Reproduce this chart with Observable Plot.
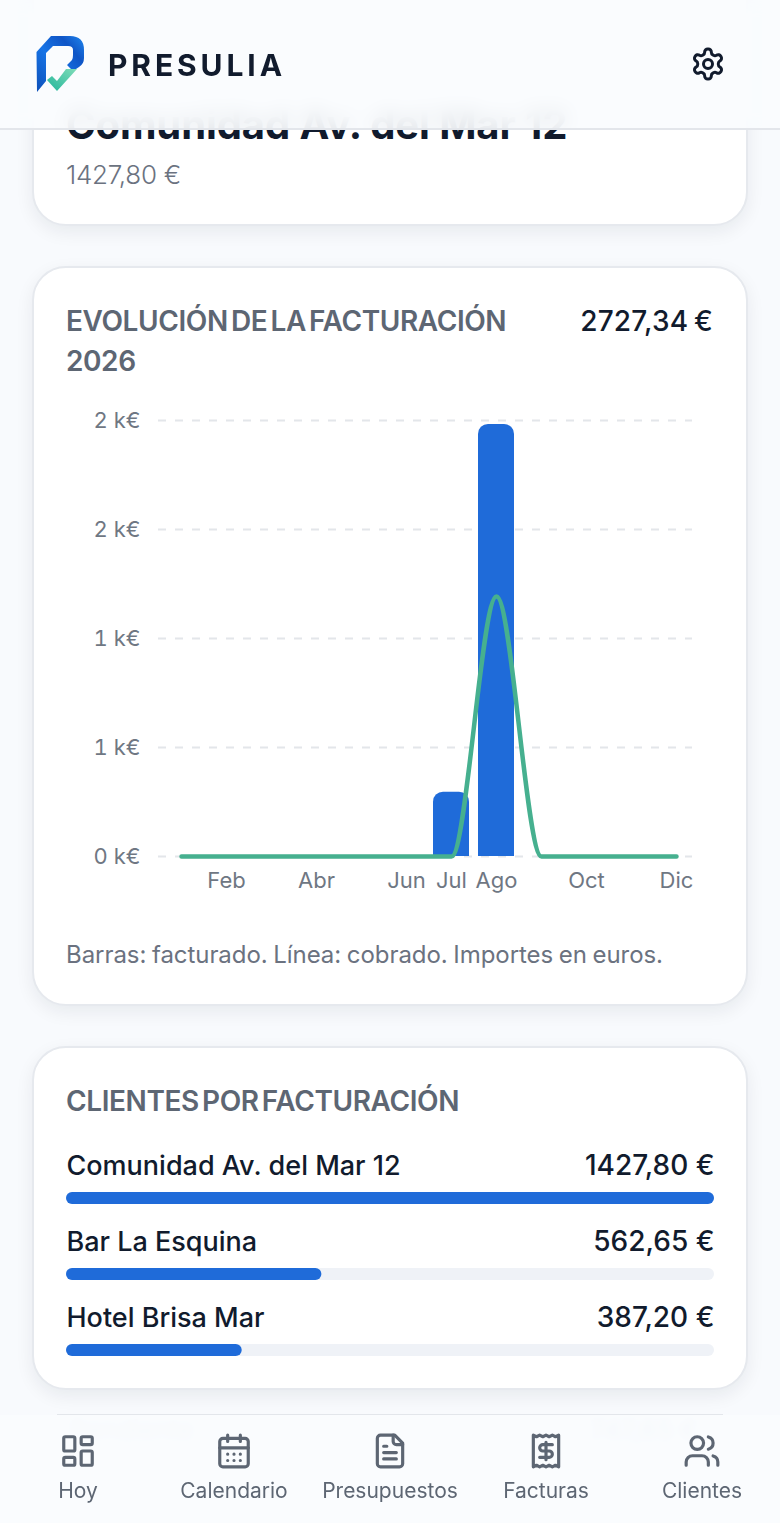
<!DOCTYPE html>
<html lang="es"><head><meta charset="utf-8">
<script src="https://cdn.jsdelivr.net/npm/d3@7"></script>
<script src="https://cdn.jsdelivr.net/npm/@observablehq/plot@0.6"></script>
<style>
html,body{margin:0;padding:0;width:780px;height:1523px;overflow:hidden;background:#f8fafd;font-family:Inter,"Noto Sans",sans-serif;color:#111b2d}
.abs{position:absolute;white-space:nowrap}
.card{position:absolute;left:32px;width:712px;background:#fff;border:2px solid #e6e9ee;border-radius:34px;box-shadow:0 6px 18px rgba(15,23,42,.07);box-sizing:content-box}
.sec{color:#5d6673;font-size:28px;font-weight:600;letter-spacing:-.4px;word-spacing:-3.5px;line-height:40px}
.val{font-size:28px;font-weight:500;letter-spacing:.2px;word-spacing:-2px;line-height:40px}
#header{position:absolute;left:0;top:0;width:780px;height:128px;background:rgba(250,252,254,.9);backdrop-filter:blur(10px);border-bottom:2px solid #e3e6eb}
#nav{position:absolute;left:0;top:1415px;width:780px;height:108px;background:rgba(250,252,254,.94);backdrop-filter:blur(4px)}
.item{position:absolute;top:1432px;width:156px;text-align:center;color:#5d6673;font-size:21px;letter-spacing:0;line-height:26px}
.item svg{display:block;margin:0 auto 8px;width:38px;height:38px;fill:none;stroke:#5d6673;stroke-width:2;stroke-linecap:round;stroke-linejoin:round}
.chart{position:absolute}
.chart svg{overflow:visible;background:transparent;display:block}
</style></head><body>

<div class="card" style="top:-40px;height:262px"></div>
<div class="abs" style="left:66px;top:100px;font-size:40px;font-weight:700;line-height:50px;letter-spacing:-.1px">Comunidad Av. del Mar 12</div>
<div class="abs" style="left:66px;top:158px;font-size:26px;font-weight:300;color:#6b7280;letter-spacing:-.25px;line-height:34px">1427,80 €</div>

<div class="card" style="top:266px;height:736px"></div>
<div class="abs sec" style="left:66px;top:301px;white-space:normal;width:470px">EVOLUCIÓN DE LA FACTURACIÓN 2026</div>
<div class="abs val" style="right:67px;top:301px">2727,34 €</div>
<div class="chart" id="trend" style="left:34px;top:400px"></div>
<div class="abs" style="left:66px;top:938px;font-size:24px;color:#6b7280;letter-spacing:-.06px;word-spacing:-1px;line-height:34px">Barras: facturado. Línea: cobrado. Importes en euros.</div>

<div class="card" style="top:1046px;height:340px"></div>
<div class="abs sec" style="left:66px;top:1081px">CLIENTES POR FACTURACIÓN</div>
<div class="chart" id="clients" style="left:34px;top:1100px"></div>

<div class="abs" style="left:57px;top:1414px;width:666px;height:1px;background:#e3e6eb"></div>
<div class="abs" style="left:70px;top:1414px;font-size:26px;color:#b9c0c9">Pendiente</div>
<div class="abs" style="left:590px;top:1414px;font-size:26px;font-weight:600;color:#b9c0c9">747,65 €</div>

<div id="header">
  <svg class="abs" style="left:30px;top:30px" width="60" height="68" viewBox="30 30 60 68">
    <defs>
      <linearGradient id="lb" x1="0" y1="1" x2="1" y2="0"><stop offset="0" stop-color="#0d4fb8"/><stop offset=".45" stop-color="#1774e6"/><stop offset=".75" stop-color="#0f55c6"/><stop offset="1" stop-color="#1f86ee"/></linearGradient>
      <linearGradient id="lg" x1="0" y1="1" x2="1" y2="0"><stop offset="0" stop-color="#22b59a"/><stop offset="1" stop-color="#7fdcb8"/></linearGradient>
    </defs>
    <path fill="url(#lb)" d="M37 92L36.500 52L51 36H70Q84 36 84 50V58Q84 64 79 67L73 71L67 65L72 60Q73 58 73 55V50Q73 46 68 46H53L46 53V81Z"/>
    <path fill="url(#lg)" d="M47 80L52 76L57 81L66 69H77L57 91Z"/>
  </svg>
  <div class="abs" style="left:108px;top:46px;font-size:30px;font-weight:700;letter-spacing:3.9px;line-height:38px;color:#111b2d">PRESULIA</div>
  <svg class="abs" style="left:690px;top:46px;fill:none;stroke:#111b2d;stroke-width:2;stroke-linecap:round;stroke-linejoin:round" width="36" height="36" viewBox="0 0 24 24"><path d="M12.22 2h-.44a2 2 0 0 0-2 2v.18a2 2 0 0 1-1 1.730l-.43.25a2 2 0 0 1-2 0l-.15-.08a2 2 0 0 0-2.730.73l-.22.38a2 2 0 0 0 .73 2.730l.15.1a2 2 0 0 1 1 1.720v.51a2 2 0 0 1-1 1.740l-.15.09a2 2 0 0 0-.73 2.730l.22.38a2 2 0 0 0 2.730.73l.15-.08a2 2 0 0 1 2 0l.43.25a2 2 0 0 1 1 1.730V20a2 2 0 0 0 2 2h.44a2 2 0 0 0 2-2v-.18a2 2 0 0 1 1-1.730l.43-.25a2 2 0 0 1 2 0l.15.08a2 2 0 0 0 2.730-.73l.22-.39a2 2 0 0 0-.73-2.730l-.15-.08a2 2 0 0 1-1-1.740v-.5a2 2 0 0 1 1-1.740l.15-.09a2 2 0 0 0 .73-2.730l-.22-.38a2 2 0 0 0-2.730-.73l-.15.08a2 2 0 0 1-2 0l-.43-.25a2 2 0 0 1-1-1.730V4a2 2 0 0 0-2-2z"/><circle cx="12" cy="12" r="3"/></svg>
</div>

<div id="nav"></div>
<div class="item" style="left:0">
  <svg viewBox="0 0 24 24"><rect x="3" y="3" width="7" height="9" rx="1"/><rect x="14" y="3" width="7" height="5" rx="1"/><rect x="14" y="12" width="7" height="9" rx="1"/><rect x="3" y="16" width="7" height="5" rx="1"/></svg>Hoy</div>
<div class="item" style="left:156px">
  <svg viewBox="0 0 24 24"><rect x="3" y="4" width="18" height="18" rx="2"/><path d="M8 2v4M16 2v4M3 10h18M8 14h.01M12 14h.01M16 14h.01M8 18h.01M12 18h.01M16 18h.01"/></svg>Calendario</div>
<div class="item" style="left:312px">
  <svg viewBox="0 0 24 24"><path d="M15 2H6a2 2 0 0 0-2 2v16a2 2 0 0 0 2 2h12a2 2 0 0 0 2-2V7Z"/><path d="M14 2v4a2 2 0 0 0 2 2h4M10 9H8M16 13H8M16 17H8"/></svg>Presupuestos</div>
<div class="item" style="left:468px">
  <svg viewBox="0 0 24 24"><path d="M4 2v20l2-1 2 1 2-1 2 1 2-1 2 1 2-1 2 1V2l-2 1-2-1-2 1-2-1-2 1-2-1-2 1Z"/><path d="M16 8h-6a2 2 0 1 0 0 4h4a2 2 0 1 1 0 4H8M12 17.500v-11"/></svg>Facturas</div>
<div class="item" style="left:624px">
  <svg viewBox="0 0 24 24"><path d="M16 21v-2a4 4 0 0 0-4-4H6a4 4 0 0 0-4 4v2"/><circle cx="9" cy="7" r="4"/><path d="M22 21v-2a4 4 0 0 0-3-3.870M16 3.130a4 4 0 0 1 0 7.750"/></svg>Clientes</div>

<script>
const months = ["Ene","Feb","Mar","Abr","May","Jun","Jul","Ago","Sep","Oct","Nov","Dic"];
const billed = [0,0,0,0,0,0,295,1982,0,0,0,0];
const collected = [0,0,0,0,0,0,0,1193,0,0,0,0];
const monthTicks = ["Feb","Abr","Jun","Jul","Ago","Oct","Dic"];
const yTicks = [0,500,1000,1500,2000];
const clientNames = ["Comunidad Av. del Mar 12","Bar La Esquina","Hotel Brisa Mar"];
const clientValues = [1427.80,562.65,387.20];
const clientLabels = ["1427,80 €","562,65 €","387,20 €"];

const BLUE="#1f6bd9", GREEN="#46b08f", GRAY="#6f7783", INK="#111b2d";
const font={fontFamily:"Inter,sans-serif",background:"transparent"};
const idx=months.map((_,i)=>i);

document.getElementById("trend").append(Plot.plot({
  width:712,height:500,marginLeft:124,marginRight:54,marginTop:20,marginBottom:44,
  style:{...font,fontSize:"22px"},
  x:{domain:months,range:[124.5,664.5],paddingInner:.2,paddingOuter:.1,label:null},
  y:{domain:[0,2000],label:null},
  marks:[
    Plot.gridY(yTicks,{stroke:"#e3e6ea",strokeOpacity:1,strokeWidth:2,strokeDasharray:"8 9"}),
    Plot.axisY({ticks:yTicks,tickSize:0,tickPadding:18,label:null,fill:GRAY,tickFormat:d=>`${Math.round(d/1000)} k€`}),
    Plot.axisX({ticks:monthTicks,tickSize:0,tickPadding:16,label:null,fill:GRAY}),
    Plot.barY(idx,{x:i=>months[i],y:i=>billed[i],fill:BLUE,rx1y1:10,rx2y1:10,filter:i=>billed[i]>0}),
    Plot.line(idx,{x:i=>months[i],y:i=>collected[i],stroke:GREEN,strokeWidth:4.5,curve:"monotone-x"})
  ]
}));

document.getElementById("clients").append(Plot.plot({
  width:712,height:270,marginLeft:32,marginRight:32,marginTop:92,marginBottom:14,
  style:{...font,fontSize:"28px"},
  x:{domain:[0,clientValues[0]],label:null,axis:null},
  y:{domain:clientNames,paddingInner:64/76,paddingOuter:0,label:null,axis:null},
  marks:[
    Plot.barX(clientNames,{x:()=>clientValues[0],y:d=>d,fill:"#eff2f7",r:6}),
    Plot.barX(clientNames,{x:(d,i)=>clientValues[i],y:d=>d,fill:BLUE,r:6}),
    Plot.text(clientNames,{y:d=>d,text:d=>d,frameAnchor:"left",textAnchor:"start",dy:-32,fill:INK,fontSize:27,fontWeight:500,letterSpacing:"-.6px",wordSpacing:"-2.500px"}),
    Plot.text(clientLabels,{y:(d,i)=>clientNames[i],text:d=>d,frameAnchor:"right",textAnchor:"end",dy:-32,fill:INK,fontWeight:500,letterSpacing:"-.1px",wordSpacing:"-2px"})
  ]
}));
</script>
</body></html>
